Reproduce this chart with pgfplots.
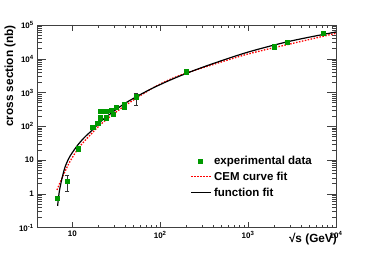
\documentclass[border=0pt]{standalone}
\usepackage{fontspec}
\setmainfont{Liberation Sans}
\usepackage{pgfplots}
\usepackage{pgfplotstable}
\pgfplotsset{compat=1.18}
\definecolor{rootgreen}{rgb}{0,0.6,0}
\pgfplotsset{linelegend/.style={legend image code/.code={\draw[##1] (0pt,0pt) -- (20pt,0pt);}}}

\pgfplotstableread{
x y ep em
6.7 0.75 0.1 0.1
8.8 2.4 1.1 1.2
11.6 22 2 2
17.0 94 8 8
19.4 126 10 10
20.8 286 20 20
20.8 178 15 15
23.9 280 20 20
24.3 178 15 15
27.7 305 25 25
29.3 228 20 20
31.6 367 30 30
38.9 451 35 35
38.9 367 30 30
53 757 230 330
197 4200 600 600
1990 22800 1500 1500
2800 31400 2000 2000
7200 58000 4000 4000
}\expdata

\pgfplotstableread{
x y
6.70 1.31
7.11 1.91
7.64 2.91
8.32 4.79
9.49 9.47
11.8 22.9
14.7 43.9
21.8 124
38.3 383
80.5 1322
130 2472
197 3750
370 6340
1000 13870
3000 27400
10000 56800
}\cemfit

\pgfplotstableread{
x y
6.81 0.44
7.11 1.15
7.64 2.88
8.32 6.51
9.49 13.5
11.8 30.1
14.1 50.2
17.2 80.9
20.8 135
27.0 233
38.0 445
53.0 741
76.9 1244
100 1724
130 2344
197 3670
370 6730
1000 15780
3000 33170
10000 62100
}\funcfit

\begin{document}
\begin{tikzpicture}
\path[use as bounding box] (0,0) rectangle (374pt,253pt);
\begin{axis}[
  at={(37.3pt,25.3pt)}, anchor=south west,
  scale only axis, width=298.7pt, height=202.7pt,
  xmode=log, ymode=log,
  xmin=4, xmax=10000, ymin=0.1, ymax=100000,
  xtick={10,100,1000,10000},
  xticklabels={10,10\textsuperscript{2},10\textsuperscript{3},10\textsuperscript{4}},
  ytick={0.1,1,10,100,1000,10000,100000},
  yticklabels={10\textsuperscript{-1},1,10,10\textsuperscript{2},10\textsuperscript{3},10\textsuperscript{4},10\textsuperscript{5}},
  tick align=inside,
  major tick length=6pt, minor tick length=3pt,
  y tick style={/pgfplots/major tick length=9pt,/pgfplots/minor tick length=4.5pt},
  axis line style={black!75, line width=0.7pt},
  tick style={black!75, line width=0.5pt},
  ticklabel style={font=\fontsize{8}{9}\selectfont\bfseries},
  xlabel={√s (GeV)},
  xlabel style={at={([xshift=1pt,yshift=-5pt]rel axis cs:1,0)}, anchor=north east, inner sep=0pt, font=\fontsize{11.8}{13}\selectfont\bfseries},
  ylabel={cross section (nb)},
  ylabel style={at={([xshift=-21.5pt]rel axis cs:0,1)}, anchor=south east, inner sep=0pt, font=\fontsize{11.8}{13}\selectfont\bfseries},
  legend style={at={(rel axis cs:0.503,0.374)}, anchor=north west, draw=none, fill=none,
    font=\fontsize{11.5}{13}\selectfont\bfseries, row sep=2pt},
  legend cell align=left,
]
\addplot[only marks, mark=square*, mark size=2.2pt, color=rootgreen,
  error bars/.cd, y dir=both, y explicit,
  error bar style={black!80, line width=0.5pt},
  error mark options={rotate=90, mark size=2pt, black!80, line width=0.5pt}]
  table[x=x, y=y, y error plus=ep, y error minus=em] {\expdata};
\addlegendentry{experimental data}
\addplot[red, line width=1.3pt, dash pattern=on 1.5pt off 1.5pt, smooth, no marks, linelegend]
  table[x=x, y=y] {\cemfit};
\addlegendentry{CEM curve fit}
\addplot[black, line width=1.2pt, smooth, no marks, linelegend]
  table[x=x, y=y] {\funcfit};
\addlegendentry{function fit}
\end{axis}
\end{tikzpicture}
\end{document}
